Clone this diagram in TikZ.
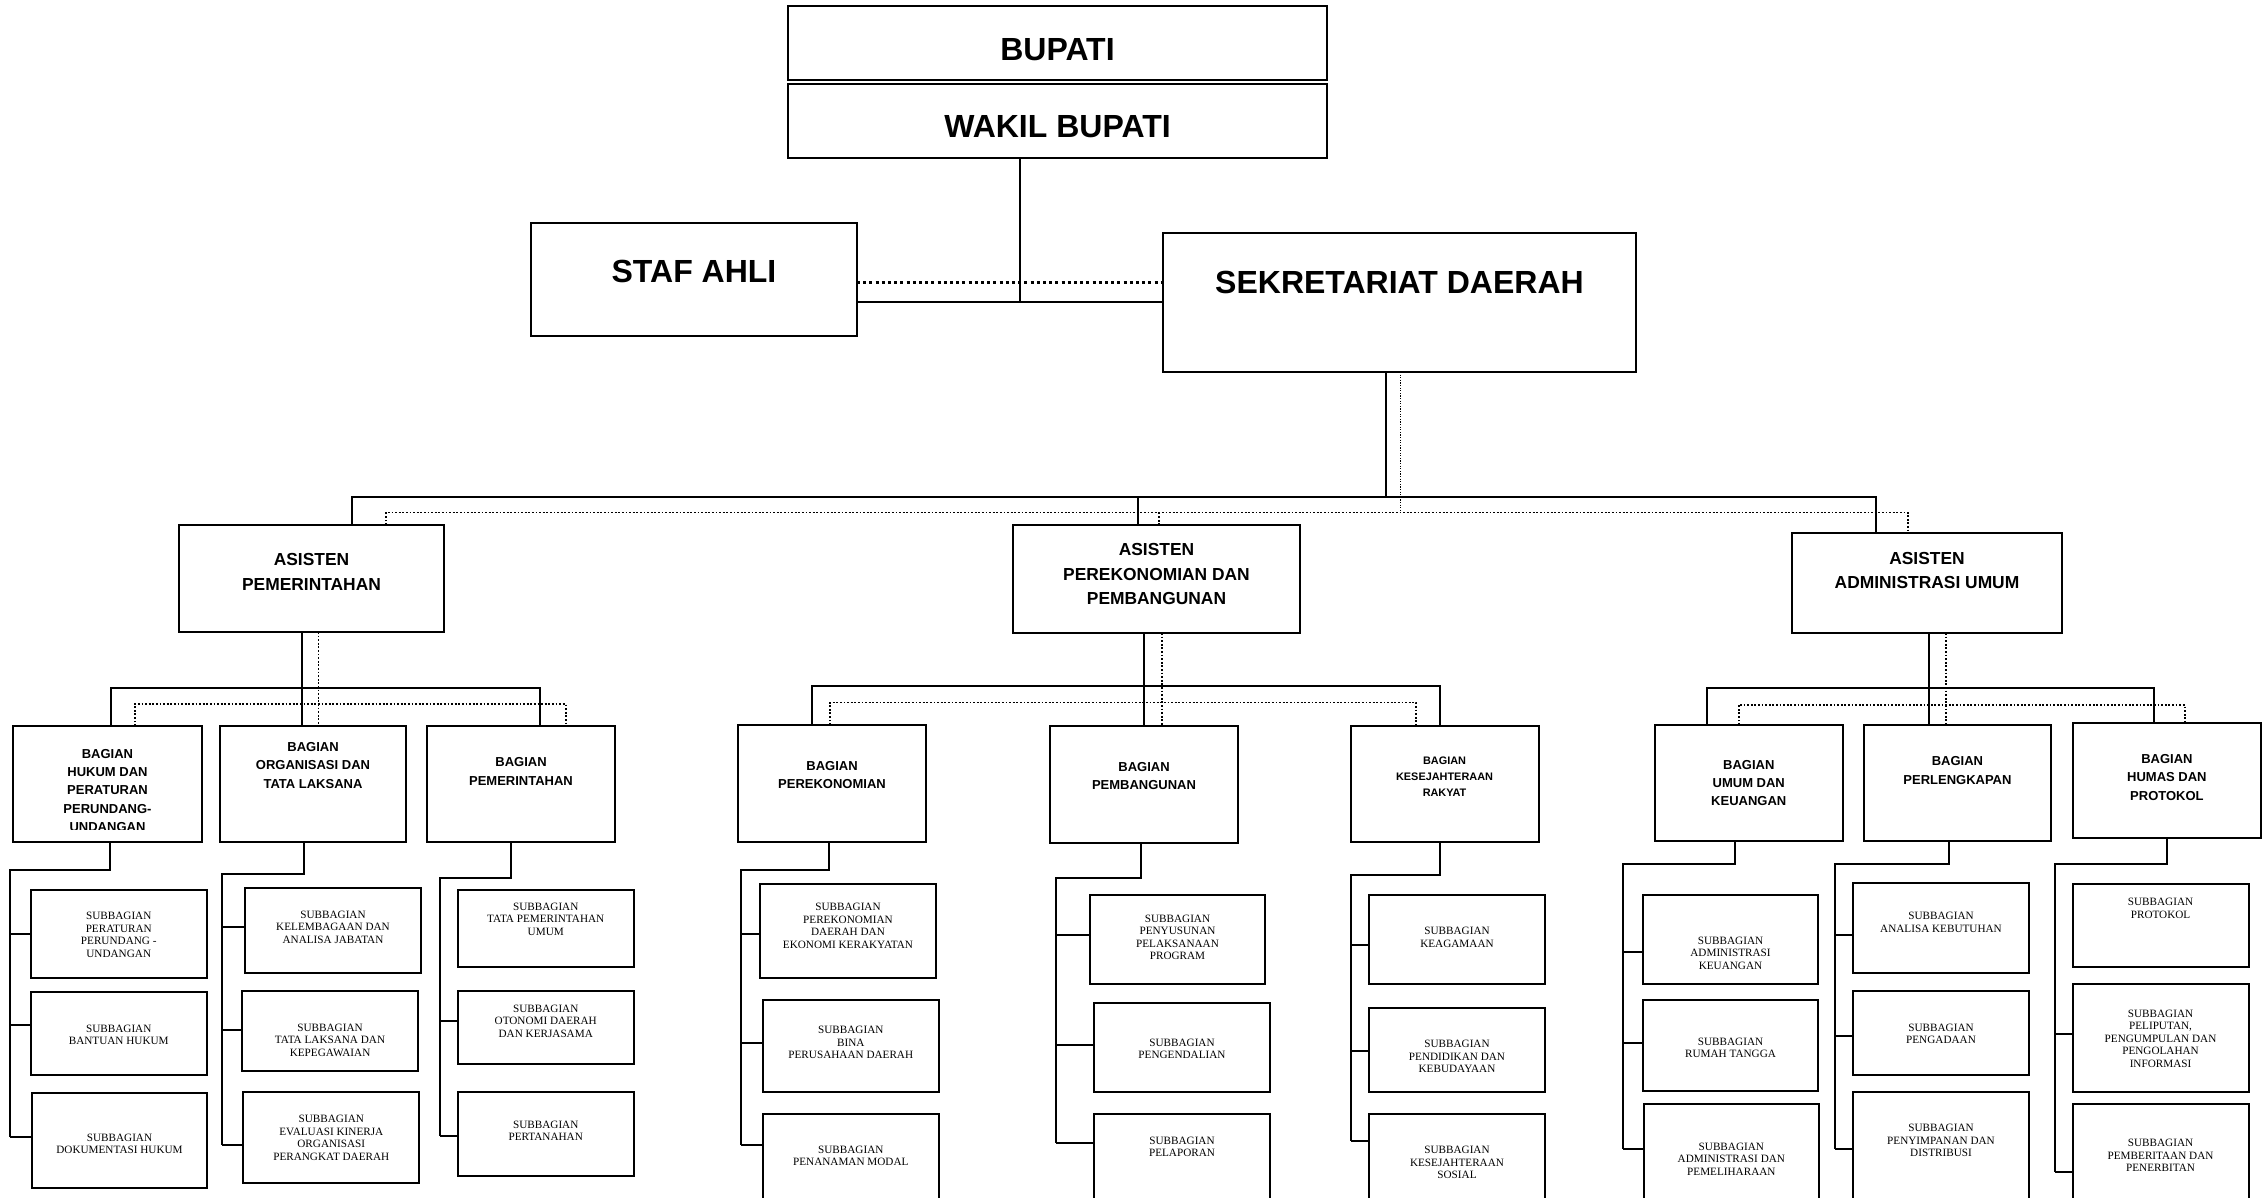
\documentclass[tikz,border=0pt]{standalone}
\usepackage{fontspec}
\setmainfont{Liberation Serif}
\newfontfamily\hsans{Liberation Sans}
\newcommand\orgbox[8]{%
  \node[bx, minimum width={(#4-(#2))/2}, minimum height={(#5-(#3))/2}] (#1) at ({(#2+#4)/2},{(#3+#5)/2}) {};
  \node[#7] (#1x) at ({(#2+#4)/2},#6) {#8};
}
\newcommand\subcol[6]{%
  \coordinate (#1e) at (#2,#3);
  \coordinate (#1t) at (#4,#3);
  \coordinate (#1b) at (#4,#6);
  \draw[conn] (#1.south -| #1e) -- (#1e) -- (#1t) -- (#1b);
  \foreach \bb/\yy in {#5} {
    \coordinate (tk) at (#4,\yy);
    \draw[conn] (tk) -- (tk -| \bb.west);
  }
}
\begin{document}
\begin{tikzpicture}[x=0.5pt,y=-0.5pt,
  bx/.style={draw, line width=1pt, inner sep=0pt, outer sep=0pt},
  conn/.style={line width=1pt},
  dots/.style={line width=0.9pt, dash pattern=on 0.9pt off 0.9pt},
  t1/.style={font=\hsans\bfseries\fontsize{16}{19}\selectfont, inner sep=0pt, align=center},
  t2/.style={font=\hsans\bfseries\fontsize{8.7}{12.25}\selectfont, inner sep=0pt, align=center},
  t3/.style={font=\hsans\bfseries\fontsize{6.5}{9.2}\selectfont, inner sep=0pt, align=center},
  t3s/.style={font=\hsans\bfseries\fontsize{5.45}{7.9}\selectfont, inner sep=0pt, align=center},
  t4/.style={font=\fontsize{5.6}{6.25}\selectfont, inner sep=0pt, align=center},
]
\clip (0,0) rectangle (2267,1198);
\fill[white] (0,0) rectangle (2267,1198);

% ---------- top ----------
\orgbox{bupati}{788}{6}{1327}{80}{50}{t1}{BUPATI}
\orgbox{wakil}{788}{84}{1327}{158}{127}{t1}{WAKIL BUPATI}
\orgbox{staf}{531}{223}{857}{336}{271}{t1}{STAF AHLI}
\orgbox{sekda}{1163}{233}{1636}{372}{282}{t1}{SEKRETARIAT DAERAH}

% ---------- asisten ----------
\orgbox{apem}{179}{525}{444}{632}{572}{t2}{ASISTEN\\PEMERINTAHAN}
\orgbox{aeko}{1013}{525}{1300}{633}{574.5}{t2}{ASISTEN\\PEREKONOMIAN DAN\\PEMBANGUNAN}
\orgbox{aadm}{1792}{533}{2062}{633}{570.5}{t2}{ASISTEN\\ADMINISTRASI UMUM}

% ---------- bagian ----------
\node[bx, minimum width={(202-13)/2}, minimum height={(842-726)/2}] (bhuk) at ({(13+202)/2},{(726+842)/2}) {};
\begin{scope}
  \clip (13,726) rectangle (202,829);
  \node[t3] (bhukx) at ({(13+202)/2},790.4) {BAGIAN\\HUKUM DAN\\PERATURAN\\PERUNDANG-\\UNDANGAN};
\end{scope}
\orgbox{borg}{220}{726}{406}{842}{765.5}{t3}{BAGIAN\\ORGANISASI DAN\\TATA LAKSANA}
\orgbox{bpem}{427}{726}{615}{842}{771.5}{t3}{BAGIAN\\PEMERINTAHAN}
\orgbox{beko}{738}{725}{926}{842}{775}{t3}{BAGIAN\\PEREKONOMIAN}
\orgbox{bpbg}{1050}{726}{1238}{843}{776}{t3}{BAGIAN\\PEMBANGUNAN}
\orgbox{bkes}{1350.5}{726}{1538.6}{842}{776.8}{t3s}{BAGIAN\\KESEJAHTERAAN\\RAKYAT}
\orgbox{bumu}{1654.5}{725}{1843}{840.5}{783}{t3}{BAGIAN\\UMUM DAN\\KEUANGAN}
\orgbox{bprl}{1863.5}{725}{2051.4}{840.5}{770.7}{t3}{BAGIAN\\PERLENGKAPAN}
\orgbox{bhum}{2072.5}{722.6}{2261.3}{838.3}{777.5}{t3}{BAGIAN\\HUMAS DAN\\PROTOKOL}

% ---------- subbagian ----------
\orgbox{s11}{31}{889.5}{206.5}{977.7}{935}{t4}{SUBBAGIAN\\PERATURAN\\PERUNDANG -\\UNDANGAN}
\orgbox{s12}{31}{992.3}{206.5}{1075}{1035}{t4}{SUBBAGIAN\\BANTUAN HUKUM}
\orgbox{s13}{32}{1093}{207}{1188}{1144}{t4}{SUBBAGIAN\\DOKUMENTASI HUKUM}

\orgbox{s21}{245.3}{888.2}{420.7}{972.8}{927.1}{t4}{SUBBAGIAN\\KELEMBAGAAN DAN\\ANALISA JABATAN}
\orgbox{s22}{242.3}{991.4}{417.8}{1071}{1040.2}{t4}{SUBBAGIAN\\TATA LAKSANA DAN\\KEPEGAWAIAN}
\orgbox{s23}{243.3}{1092}{419.3}{1183.3}{1137.7}{t4}{SUBBAGIAN\\EVALUASI KINERJA\\ORGANISASI\\PERANGKAT DAERAH}

\orgbox{s31}{458}{889.5}{633.5}{967.4}{919.1}{t4}{SUBBAGIAN\\TATA PEMERINTAHAN\\UMUM}
\orgbox{s32}{458}{991.4}{633.5}{1064}{1021.2}{t4}{SUBBAGIAN\\OTONOMI DAERAH\\DAN KERJASAMA}
\orgbox{s33}{458}{1092}{633.5}{1175.7}{1130.8}{t4}{SUBBAGIAN\\PERTANAHAN}

\orgbox{s41}{760}{883.7}{936}{977.7}{926}{t4}{SUBBAGIAN\\PEREKONOMIAN\\DAERAH DAN\\EKONOMI KERAKYATAN}
\orgbox{s42}{763}{999.5}{938.6}{1092}{1042.4}{t4}{SUBBAGIAN\\BINA\\PERUSAHAAN DAERAH}
\orgbox{s43}{763}{1114}{938.6}{1215}{1156}{t4}{SUBBAGIAN\\PENANAMAN MODAL}

\orgbox{s51}{1089.6}{894.9}{1265.4}{983.9}{937.4}{t4}{SUBBAGIAN\\PENYUSUNAN\\PELAKSANAAN\\PROGRAM}
\orgbox{s52}{1094}{1003}{1270}{1092}{1048.8}{t4}{SUBBAGIAN\\PENGENDALIAN}
\orgbox{s53}{1094}{1114}{1270}{1215}{1147}{t4}{SUBBAGIAN\\PELAPORAN}

\orgbox{s61}{1369}{895}{1545}{984}{937.5}{t4}{SUBBAGIAN\\KEAGAMAAN}
\orgbox{s62}{1369}{1008}{1545}{1092}{1056.5}{t4}{SUBBAGIAN\\PENDIDIKAN DAN\\KEBUDAYAAN}
\orgbox{s63}{1369}{1114}{1545}{1215}{1162.5}{t4}{SUBBAGIAN\\KESEJAHTERAAN\\SOSIAL}

\orgbox{s71}{1642.7}{894.9}{1818.3}{983.9}{953.2}{t4}{SUBBAGIAN\\ADMINISTRASI\\KEUANGAN}
\orgbox{s72}{1642.7}{999.5}{1818.3}{1091.2}{1048}{t4}{SUBBAGIAN\\RUMAH TANGGA}
\orgbox{s73}{1643.5}{1104}{1819.2}{1215}{1159}{t4}{SUBBAGIAN\\ADMINISTRASI DAN\\PEMELIHARAAN}

\orgbox{s81}{1853}{882.8}{2029}{972.8}{922.5}{t4}{SUBBAGIAN\\ANALISA KEBUTUHAN}
\orgbox{s82}{1853}{991.4}{2029}{1075.1}{1033.8}{t4}{SUBBAGIAN\\PENGADAAN}
\orgbox{s83}{1853}{1092}{2029}{1215}{1140.8}{t4}{SUBBAGIAN\\PENYIMPANAN DAN\\DISTRIBUSI}

\orgbox{s91}{2072.5}{883.7}{2248.6}{967.4}{908.2}{t4}{SUBBAGIAN\\PROTOKOL}
\orgbox{s92}{2072.5}{983.9}{2248.6}{1092}{1038.5}{t4}{SUBBAGIAN\\PELIPUTAN,\\PENGUMPULAN DAN\\PENGOLAHAN\\INFORMASI}
\orgbox{s93}{2072.5}{1104}{2248.6}{1215}{1155.8}{t4}{SUBBAGIAN\\PEMBERITAAN DAN\\PENERBITAN}

% ---------- connectors: top ----------
\coordinate (jw) at (1020,302);
\coordinate (jd) at (1020,283);
\draw[line width=0.7pt] (wakil.south -| jw) -- (jw);
\draw[line width=1.4pt] (staf.east |- jw) -- (sekda.west |- jw);
\draw[line width=1.5pt, dash pattern=on 1.5pt off 1.6pt] (staf.east |- jd) -- (sekda.west |- jd);

% ---------- connectors: level 1 ----------
\coordinate (l1s) at (1386,497);
\coordinate (d1s) at (1400.5,512.5);
\draw[line width=0.8pt] (sekda.south -| l1s) -- (l1s);
\draw[line width=0.6pt, dash pattern=on 0.6pt off 0.7pt] (sekda.south -| d1s) -- (d1s);
\coordinate (l1a) at (352,497);
\coordinate (l1m) at (1138,497);
\coordinate (l1b) at (1876,497);
\draw[conn] (apem.north -| l1a) -- (l1a) -- (l1b) -- (aadm.north -| l1b);
\draw[conn] (l1m) -- (aeko.north -| l1m);
\coordinate (d1a) at (386,512.5);
\coordinate (d1m) at (1159,512.5);
\coordinate (d1b) at (1908,512.5);
\draw[dots] (apem.north -| d1a) -- (d1a) -- (d1b) -- (aadm.north -| d1b);
\draw[dots] (d1m) -- (aeko.north -| d1m);

% ---------- connectors: level 2 ----------
\coordinate (a1) at (301.5,688);
\coordinate (a1l) at (110.5,688);
\coordinate (a1r) at (540.4,688);
\draw[conn] (apem.south -| a1) -- (borg.north -| a1);
\draw[conn] (bhuk.north -| a1l) -- (a1l) -- (a1r) -- (bpem.north -| a1r);
\coordinate (a2) at (318.4,704);
\coordinate (a2l) at (134.7,704);
\coordinate (a2r) at (565.6,704);
\draw[dots] (apem.south -| a2) -- (borg.north -| a2);
\draw[dots] (bhuk.north -| a2l) -- (a2l) -- (a2r) -- (bpem.north -| a2r);

\coordinate (b1) at (1144,686);
\coordinate (b1l) at (812,686);
\coordinate (b1r) at (1439.5,686);
\draw[conn] (aeko.south -| b1) -- (bpbg.north -| b1);
\draw[conn] (beko.north -| b1l) -- (b1l) -- (b1r) -- (bkes.north -| b1r);
\coordinate (b2) at (1162,702.5);
\coordinate (b2l) at (830,702.5);
\coordinate (b2r) at (1416,702.5);
\draw[dots] (aeko.south -| b2) -- (bpbg.north -| b2);
\draw[dots] (beko.north -| b2l) -- (b2l) -- (b2r) -- (bkes.north -| b2r);

\coordinate (c1) at (1929.2,688.3);
\coordinate (c1l) at (1707,688.3);
\coordinate (c1r) at (2154.4,688.3);
\draw[conn] (aadm.south -| c1) -- (bprl.north -| c1);
\draw[conn] (bumu.north -| c1l) -- (c1l) -- (c1r) -- (bhum.north -| c1r);
\coordinate (c2) at (1945.8,704.8);
\coordinate (c2l) at (1738.6,704.8);
\coordinate (c2r) at (2184.6,704.8);
\draw[dots] (aadm.south -| c2) -- (bprl.north -| c2);
\draw[dots] (bumu.north -| c2l) -- (c2l) -- (c2r) -- (bhum.north -| c2r);

% ---------- connectors: level 3 ----------
\subcol{bhuk}{109.5}{870.4}{9.7}{s11/934, s12/1025, s13/1136.6}{1136.6}
\subcol{borg}{304.4}{874}{222}{s21/927.3, s22/1029.7, s23/1144.6}{1144.6}
\subcol{bpem}{510.9}{877.5}{439.6}{s32/1020.8, s33/1135.7}{1135.7}
\subcol{beko}{828.7}{870.4}{741.4}{s41/934, s42/1043, s43/1144.6}{1144.6}
\subcol{bpbg}{1140.5}{877.5}{1056.4}{s51/935, s52/1045, s53/1143}{1143}
\subcol{bkes}{1439.5}{874.8}{1350.5}{s61/945, s62/1050.6, s63/1141}{1141}
\subcol{bumu}{1734.7}{863.7}{1622.5}{s71/951.8, s72/1043, s73/1148.6}{1148.6}
\subcol{bprl}{1949.3}{863.7}{1835}{s81/935.4, s82/1036.4, s83/1148.6}{1148.6}
\subcol{bhum}{2167}{863.7}{2055.4}{s92/1034.2, s93/1172.2}{1172.2}
\end{tikzpicture}
\end{document}
